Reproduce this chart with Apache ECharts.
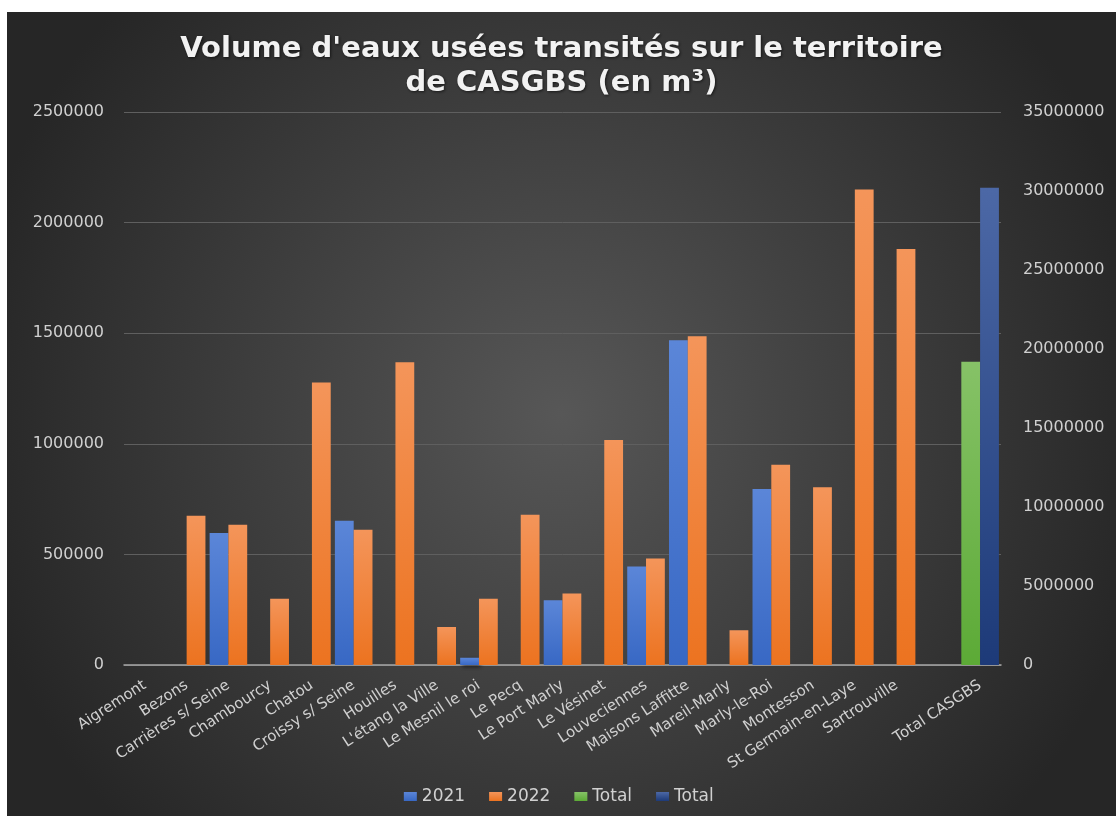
<!DOCTYPE html>
<html>
<head>
<meta charset="utf-8">
<title>Volume d'eaux usées transités</title>
<script src="https://cdn.jsdelivr.net/npm/echarts@6/dist/echarts.min.js"></script>
<style>
  html, body { margin: 0; padding: 0; background: #ffffff; }
  #eaux-usees {
    position: absolute;
    left: 7px;
    top: 12px;
    width: 1109px;
    height: 804px;
  }
</style>
</head>
<body>
<div id="eaux-usees"></div>
<script>
const communes = [
  'Aigremont', 'Bezons', 'Carrières s/ Seine', 'Chambourcy', 'Chatou',
  'Croissy s/ Seine', 'Houilles', "L'étang la Ville", 'Le Mesnil le roi',
  'Le Pecq', 'Le Port Marly', 'Le Vésinet', 'Louveciennes', 'Maisons Laffitte',
  'Mareil-Marly', 'Marly-le-Roi', 'Montesson', 'St Germain-en-Laye',
  'Sartrouville', '', 'Total CASGBS'
]
const vol2021 = [
  null, null, 597000, null, null, 652000, null, null, 33000, null, 293000,
  null, 445000, 1468000, null, 796000, null, null, null, null, null
]
const vol2022 = [
  null, 675000, 634000, 300000, 1277000, 612000, 1369000, 172000, 300000,
  679000, 323000, 1017000, 481000, 1486000, 157000, 905000, 804000, 2150000,
  1881000, null, null
]
// totaux sur l'axe secondaire
const totalVert = [
  null, null, null, null, null, null, null, null, null, null, null,
  null, null, null, null, null, null, null, null, null, 19200000
]
const totalBleu = [
  null, null, null, null, null, null, null, null, null, null, null,
  null, null, null, null, null, null, null, null, null, 30200000
]

const grad = (top, bottom) => new echarts.graphic.LinearGradient(0, 0, 0, 1, [
  { offset: 0, color: top },
  { offset: 1, color: bottom },
])
const shadow = {
  shadowBlur: 4,
  shadowColor: 'rgba(0,0,0,0.55)',
  shadowOffsetX: 2,
  shadowOffsetY: 2,
}
const labelColor = '#d0d0d0'

const myChart = echarts.init(document.getElementById('eaux-usees'))
const option = {
  backgroundColor: {
    type: 'radial',
    x: 0.5,
    y: 0.5,
    r: 0.75,
    colorStops: [
      { offset: 0, color: '#575757' },
      { offset: 1, color: '#262626' },
    ],
  },
  title: {
    text: "Volume d'eaux usées transités sur le territoire\nde CASGBS (en m³)",
    left: 'center',
    top: 15,
    textStyle: {
      color: '#f2f2f2',
      fontFamily: 'DejaVu Sans',
      fontWeight: 'bold',
      fontSize: 29,
      lineHeight: 34,
      textShadowColor: 'rgba(0,0,0,0.6)',
      textShadowBlur: 3,
      textShadowOffsetX: 1,
      textShadowOffsetY: 1,
    },
  },
  legend: {
    bottom: 6,
    left: 'center',
    icon: 'rect',
    itemWidth: 13,
    itemHeight: 9,
    itemGap: 24,
    data: ['2021', '2022', 'Total', 'Total '],
    textStyle: {
      color: labelColor,
      fontFamily: 'DejaVu Sans',
      fontSize: 17,
    },
  },
  grid: {
    left: 117,
    right: 115,
    top: 100,
    bottom: 151,
  },
  xAxis: [
    {
      type: 'category',
      data: communes,
      axisTick: { show: false },
      axisLine: { lineStyle: { color: '#a8a8a8', width: 1.5 } },
      axisLabel: {
        interval: 0,
        rotate: 33,
        margin: 19,
        color: labelColor,
        fontFamily: 'DejaVu Sans',
        fontSize: 15,
      },
    },
    {
      type: 'category',
      data: communes,
      show: false,
    },
  ],
  yAxis: [
    {
      type: 'value',
      min: 0,
      max: 2500000,
      interval: 500000,
      axisLine: { show: false },
      axisTick: { show: false },
      splitLine: { lineStyle: { color: '#5f5f5f', width: 1 } },
      axisLabel: {
        margin: 20,
        color: labelColor,
        fontFamily: 'DejaVu Sans',
        fontSize: 16,
        formatter: (v) => String(v),
      },
    },
    {
      type: 'value',
      min: 0,
      max: 35000000,
      interval: 5000000,
      axisLine: { show: false },
      axisTick: { show: false },
      splitLine: { show: false },
      axisLabel: {
        margin: 22,
        color: labelColor,
        fontFamily: 'DejaVu Sans',
        fontSize: 16,
        formatter: (v) => String(v),
      },
    },
  ],
  series: [
    {
      name: '2021',
      type: 'bar',
      data: vol2021,
      barGap: '0%',
      barCategoryGap: '10%',
      itemStyle: Object.assign({ color: grad('#5b86d8', '#3868c4') }, shadow),
    },
    {
      name: '2022',
      type: 'bar',
      data: vol2022,
      barGap: '0%',
      barCategoryGap: '10%',
      itemStyle: Object.assign({ color: grad('#f4955a', '#ec7320') }, shadow),
    },
    {
      name: 'Total',
      type: 'bar',
      xAxisIndex: 1,
      yAxisIndex: 1,
      data: totalVert,
      barGap: '0%',
      barCategoryGap: '10%',
      itemStyle: Object.assign({ color: grad('#86c267', '#5caa36') }, shadow),
    },
    {
      name: 'Total ',
      type: 'bar',
      xAxisIndex: 1,
      yAxisIndex: 1,
      data: totalBleu,
      barGap: '0%',
      barCategoryGap: '10%',
      itemStyle: Object.assign({ color: grad('#4c68a6', '#1d3a78') }, shadow),
    },
  ],
}
myChart.setOption(option)
</script>
</body>
</html>
